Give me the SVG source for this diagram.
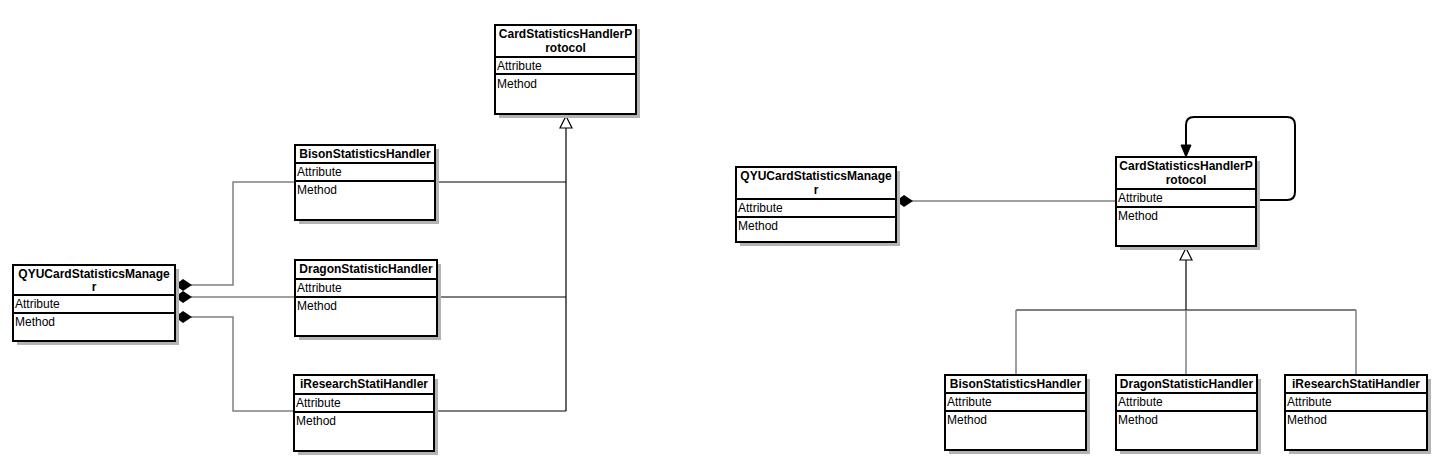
<svg xmlns="http://www.w3.org/2000/svg" width="1448" height="470" viewBox="0 0 1448 470">
<style>
.box{fill:#fff;stroke:#000;stroke-width:2}
.sh{fill:#b3b3b3}
.dv{stroke:#000;stroke-width:2}
.h{font-family:"Liberation Sans",Arial,sans-serif;font-size:12px;font-weight:bold;text-anchor:middle;fill:#000}
.t{font-family:"Liberation Sans",Arial,sans-serif;font-size:12px;fill:#000}
.g{fill:none;stroke:#808080;stroke-width:1.5}
.k{fill:none;stroke:#000;stroke-width:1.2}
.dia{fill:#000;stroke:none}
.tri{fill:#fff;stroke:#000;stroke-width:1.2}
</style>
<rect width="1448" height="470" fill="#fff"/>
<g id="connectors">
<path class="g" d="M191,285 H233 V182 H295"/>
<path class="g" d="M191,297 H294"/>
<path class="g" d="M191,317 H233 V411 H294"/>
<path class="k" d="M435,182 H566"/>
<path class="k" d="M437,297 H566"/>
<path class="k" d="M434,411 H566"/>
<path class="k" d="M566,411 V128"/>
<polygon class="tri" points="566,116 560,128 572,128"/>
<polygon class="dia" points="175,285 183,279 192,285 183,291"/>
<polygon class="dia" points="175,297 183,291 192,297 183,303"/>
<polygon class="dia" points="175,317 183,311 192,317 183,323"/>
<path class="g" d="M912,201 H1116"/>
<polygon class="dia" points="896,201 904,195 913,201 904,207"/>
<path fill="none" stroke="#000" stroke-width="2" d="M1256,200 H1287 Q1295,200 1295,192 V125 Q1295,117 1287,117 H1194 Q1186,117 1186,125 V146"/>
<polygon fill="#000" stroke="#000" points="1186,157 1181,145 1191,145"/>
<path class="k" d="M1186,260 V310"/>
<path class="k" d="M1016,310 H1356"/>
<path class="g" d="M1016,310 V375 M1186,310 V375 M1356,310 V375"/>
<polygon class="tri" points="1186,248 1180,260 1192,260"/>
</g>
<g id="left-protocol">
<rect class="sh" x="499" y="29" width="141" height="89"/>
<rect class="box" x="495" y="25" width="141" height="89"/>
<line class="dv" x1="495" y1="57" x2="636" y2="57"/>
<line class="dv" x1="495" y1="74" x2="636" y2="74"/>
<text class="h" x="565.5" y="38">CardStatisticsHandlerP</text>
<text class="h" x="565.5" y="52">rotocol</text>
<text class="t" x="497" y="70">Attribute</text>
<text class="t" x="497" y="88">Method</text>
</g>
<g id="left-manager">
<rect class="sh" x="17" y="269" width="162" height="76"/>
<rect class="box" x="13" y="265" width="162" height="76"/>
<line class="dv" x1="13" y1="295" x2="175" y2="295"/>
<line class="dv" x1="13" y1="313" x2="175" y2="313"/>
<text class="h" x="94" y="278">QYUCardStatisticsManage</text>
<text class="h" x="94" y="291">r</text>
<text class="t" x="15" y="308">Attribute</text>
<text class="t" x="15" y="326">Method</text>
</g>
<g id="left-bison">
<rect class="sh" x="299" y="149" width="140" height="75"/>
<rect class="box" x="295" y="145" width="140" height="75"/>
<line class="dv" x1="295" y1="163" x2="435" y2="163"/>
<line class="dv" x1="295" y1="181" x2="435" y2="181"/>
<text class="h" x="365" y="158">BisonStatisticsHandler</text>
<text class="t" x="297" y="176">Attribute</text>
<text class="t" x="297" y="194">Method</text>
</g>
<g id="left-dragon">
<rect class="sh" x="299" y="264" width="142" height="76"/>
<rect class="box" x="295" y="260" width="142" height="76"/>
<line class="dv" x1="295" y1="279" x2="437" y2="279"/>
<line class="dv" x1="295" y1="297" x2="437" y2="297"/>
<text class="h" x="366" y="273">DragonStatisticHandler</text>
<text class="t" x="297" y="292">Attribute</text>
<text class="t" x="297" y="310">Method</text>
</g>
<g id="left-iresearch">
<rect class="sh" x="298" y="379" width="140" height="76"/>
<rect class="box" x="294" y="375" width="140" height="76"/>
<line class="dv" x1="294" y1="394" x2="434" y2="394"/>
<line class="dv" x1="294" y1="412" x2="434" y2="412"/>
<text class="h" x="364" y="388">iResearchStatiHandler</text>
<text class="t" x="296" y="407">Attribute</text>
<text class="t" x="296" y="425">Method</text>
</g>
<g id="right-manager">
<rect class="sh" x="740" y="171" width="160" height="75"/>
<rect class="box" x="736" y="167" width="160" height="75"/>
<line class="dv" x1="736" y1="199" x2="896" y2="199"/>
<line class="dv" x1="736" y1="217" x2="896" y2="217"/>
<text class="h" x="816" y="180">QYUCardStatisticsManage</text>
<text class="h" x="816" y="194">r</text>
<text class="t" x="738" y="212">Attribute</text>
<text class="t" x="738" y="230">Method</text>
</g>
<g id="right-protocol">
<rect class="sh" x="1120" y="161" width="140" height="89"/>
<rect class="box" x="1116" y="157" width="140" height="89"/>
<line class="dv" x1="1116" y1="189" x2="1256" y2="189"/>
<line class="dv" x1="1116" y1="207" x2="1256" y2="207"/>
<text class="h" x="1186" y="170">CardStatisticsHandlerP</text>
<text class="h" x="1186" y="184">rotocol</text>
<text class="t" x="1118" y="202">Attribute</text>
<text class="t" x="1118" y="220">Method</text>
</g>
<g id="right-bison">
<rect class="sh" x="949" y="379" width="141" height="75"/>
<rect class="box" x="945" y="375" width="141" height="75"/>
<line class="dv" x1="945" y1="393" x2="1086" y2="393"/>
<line class="dv" x1="945" y1="411" x2="1086" y2="411"/>
<text class="h" x="1015.5" y="388">BisonStatisticsHandler</text>
<text class="t" x="947" y="406">Attribute</text>
<text class="t" x="947" y="424">Method</text>
</g>
<g id="right-dragon">
<rect class="sh" x="1120" y="379" width="141" height="75"/>
<rect class="box" x="1116" y="375" width="141" height="75"/>
<line class="dv" x1="1116" y1="393" x2="1257" y2="393"/>
<line class="dv" x1="1116" y1="411" x2="1257" y2="411"/>
<text class="h" x="1186.5" y="388">DragonStatisticHandler</text>
<text class="t" x="1118" y="406">Attribute</text>
<text class="t" x="1118" y="424">Method</text>
</g>
<g id="right-iresearch">
<rect class="sh" x="1289" y="379" width="142" height="75"/>
<rect class="box" x="1285" y="375" width="142" height="75"/>
<line class="dv" x1="1285" y1="393" x2="1427" y2="393"/>
<line class="dv" x1="1285" y1="411" x2="1427" y2="411"/>
<text class="h" x="1356" y="388">iResearchStatiHandler</text>
<text class="t" x="1287" y="406">Attribute</text>
<text class="t" x="1287" y="424">Method</text>
</g>
</svg>
